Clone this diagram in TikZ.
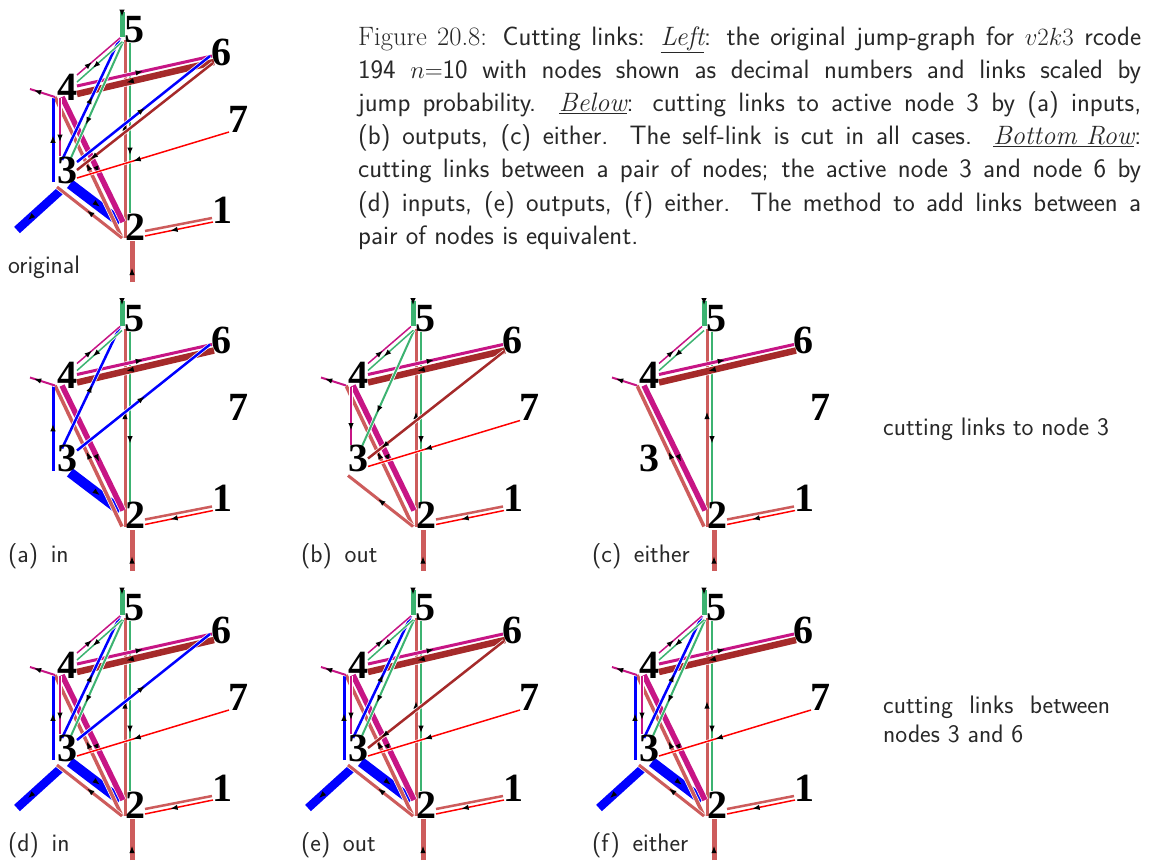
\documentclass[tikz,border=0pt]{standalone}
\usepackage{fontspec}
\newfontfamily\numfont{Liberation Serif}
\usetikzlibrary{calc,arrows.meta,decorations.markings}
\pgfdeclarelayer{back}
\pgfdeclarelayer{edges}
\pgfsetlayers{back,edges,main}
\definecolor{cB}{RGB}{0,0,255}
\definecolor{cM}{RGB}{199,21,133}
\definecolor{cG}{RGB}{60,179,113}
\definecolor{cBr}{RGB}{165,42,42}
\definecolor{cS}{RGB}{205,92,92}
\definecolor{cR}{RGB}{255,0,0}
\definecolor{txt}{RGB}{40,40,40}
\tikzset{
  lnk/.style n args={3}{draw=#1, line width=#2,
    preaction={draw=white, line width=#2+1.4pt},
    postaction={decorate, decoration={markings,
      mark=at position #3 with {\arrow{Latex[length=7.5pt,width=5.5pt,color=black]}}}}},
  lnkplain/.style 2 args={draw=#1, line width=#2,
    preaction={draw=white, line width=#2+1.4pt}},
  lbl/.style={font=\numfont\bfseries\fontsize{40}{40}\selectfont, inner sep=0pt, text=black},
  captxt/.style={font=\sffamily\fontsize{25.3}{29}\selectfont, text=txt, inner sep=0pt}
}
% self links
\newcommand\jgSelfFive{\draw[lnk={cG}{5pt}{0.2}] ($(n5)+(-12,-18)$) -- ($(n5)+(-12,7)$);}
\newcommand\jgSelfFour{\draw[lnk={cM}{2pt}{0.85}] ($(n4)+(-12,10)$) -- ($(n4)+(-37,2)$);}
\newcommand\jgSelfThree{\draw[lnk={cB}{8.5pt}{0.75}] ($(n3)+(-7,21)$) -- ($(n3)+(-50,60)$);}
\newcommand\jgSelfTwo{\draw[lnk={cS}{5pt}{0.35}] ($(n2)+(-3,55)$) -- ($(n2)+(-3,14)$);}
% links
\newcommand\jgFiveTwo{\draw[lnk={cG}{2.5pt}{0.66}] ($(n5)+(-4,13)$) -- ($(n2)+(-5,-14)$);}
\newcommand\jgTwoFive{\draw[lnk={cS}{3pt}{0.58}] ($(n2)+(-10,11)$) -- ($(n5)+(-9,10)$);}
\newcommand\jgFourFive{\draw[lnk={cM}{1.5pt}{0.35}] ($(n4)+(10,-12)$) -- ($(n5)+(-14,8)$);}
\newcommand\jgFiveFour{\draw[lnk={cG}{1.5pt}{0.65}] ($(n5)+(-12,12)$) -- ($(n4)+(10,-5)$);}
\newcommand\jgThreeFive{\draw[lnk={cB}{2.5pt}{0.52}] ($(n3)+(-5,-10)$) -- ($(n5)+(-14,8)$);}
\newcommand\jgFiveThree{\draw[lnk={cG}{2pt}{0.7}] ($(n5)+(-11,12)$) -- ($(n3)+(3,-10)$);}
\newcommand\jgFourSix{\draw[lnk={cM}{3pt}{0.49}] ($(n4)+(10,-1)$) -- ($(n6)+(-9,4)$);}
\newcommand\jgSixFour{\draw[lnk={cBr}{6.5pt}{0.64}] ($(n6)+(-7,10)$) -- ($(n4)+(10,7)$);}
\newcommand\jgThreeSix{\draw[lnk={cB}{2.5pt}{0.51}] ($(n3)+(10,-8)$) -- ($(n6)+(-11,4)$);}
\newcommand\jgSixThree{\draw[lnk={cBr}{2.5pt}{0.9}] ($(n6)+(-8,11)$) -- ($(n3)+(10,0)$);}
\newcommand\jgSevenThree{\draw[lnk={cR}{1.5pt}{0.63}] ($(n7)+(-9,13)$) -- ($(n3)+(10,8)$);}
\newcommand\jgFourThree{\draw[lnk={cM}{2pt}{0.76}] ($(n4)+(-7,11)$) -- ($(n3)+(-7,-14)$);}
\newcommand\jgThreeFour{\draw[lnk={cB}{3pt}{0.55}] ($(n3)+(-14,12)$) -- ($(n4)+(-14,10)$);}
\newcommand\jgFourTwo{\draw[lnk={cM}{5.5pt}{0.61}] ($(n4)+(-5,10)$) -- ($(n2)+(-12,-5)$);}
\newcommand\jgTwoFour{\draw[lnk={cS}{3.5pt}{0.53}] ($(n2)+(-13,11)$) -- ($(n4)+(-12,10)$);}
\newcommand\jgThreeTwo{\draw[lnk={cB}{10pt}{0.6}] ($(n3)+(3,14)$) -- ($(n2)+(-15,-5)$);}
\newcommand\jgTwoThree{\draw[lnk={cS}{3pt}{0.54}] ($(n2)+(-13,11)$) -- ($(n3)+(-10,17)$);}
\newcommand\jgTwoOne{\draw[lnkplain={cS}{2.5pt}] ($(n2)+(10,4)$) -- ($(n1)+(-10,8)$);}
\newcommand\jgOneTwo{\draw[lnk={cR}{1.5pt}{0.63}] ($(n1)+(-9,12)$) -- ($(n2)+(10,9)$);}
% cuts
\newcommand\jgCutIn{\let\jgFourThree\relax\let\jgFiveThree\relax\let\jgSixThree\relax
  \let\jgSevenThree\relax\let\jgTwoThree\relax\let\jgSelfThree\relax}
\newcommand\jgCutOut{\let\jgThreeFour\relax\let\jgThreeFive\relax\let\jgThreeSix\relax
  \let\jgThreeTwo\relax\let\jgSelfThree\relax}
\newcommand\jgPanel[3]{%
\begin{scope}[shift={#2}, name prefix=#1-]
#3
\node[lbl] (n5) at (134,30) {5};
\node[lbl] (n6) at (221,52) {6};
\node[lbl] (n4) at (67,87) {4};
\node[lbl] (n7) at (238,119) {7};
\node[lbl] (n3) at (67,170) {3};
\node[lbl] (n2) at (135,227) {2};
\node[lbl] (n1) at (222,210) {1};
\begin{pgfonlayer}{edges}
\jgSelfThree\jgSelfTwo\jgSelfFive
\jgFiveTwo\jgTwoFive
\jgThreeTwo\jgFourTwo\jgTwoFour\jgTwoThree
\jgSixFour\jgFourSix\jgThreeSix\jgSixThree\jgSevenThree
\jgThreeFive\jgFiveThree\jgFourFive\jgFiveFour
\jgFourThree\jgThreeFour\jgSelfFour
\jgTwoOne\jgOneTwo
\end{pgfonlayer}
\end{scope}}
\begin{document}
\begin{tikzpicture}[x=1pt,y=-1pt]
\begin{pgfonlayer}{back}
\fill[white] (0,0) rectangle (1160,860);
\end{pgfonlayer}
\useasboundingbox (0,0) rectangle (1160,860);
\jgPanel{o}{(0,0)}{}
\jgPanel{a}{(0,288.5)}{\jgCutIn}
\jgPanel{b}{(291,288.5)}{\jgCutOut}
\jgPanel{c}{(582,288.5)}{\jgCutIn\jgCutOut}
\jgPanel{d}{(0,578)}{\let\jgSixThree\relax}
\jgPanel{e}{(291,578)}{\let\jgThreeSix\relax}
\jgPanel{f}{(582,578)}{\let\jgSixThree\relax\let\jgThreeSix\relax}
% panel labels
\node[captxt, anchor=base west] (lo) at (8,273.5) {original};
\node[captxt, anchor=base west] (la) at (8,562) {(a)\hspace{0.5em}in};
\node[captxt, anchor=base west] (lb) at (301,562) {(b)\hspace{0.5em}out};
\node[captxt, anchor=base west] (lc) at (592,562) {(c)\hspace{0.5em}either};
\node[captxt, anchor=base west] (ld) at (8,851.5) {(d)\hspace{0.5em}in};
\node[captxt, anchor=base west] (le) at (301,851.5) {(e)\hspace{0.5em}out};
\node[captxt, anchor=base west] (lf) at (592,851.5) {(f)\hspace{0.5em}either};
\node[captxt, anchor=base west] (r1) at (883,435) {cutting links to node 3};
\node[captxt, anchor=base west] (r2) at (883,713) {\parbox[t]{227pt}{\makebox[227pt][s]{cutting links between}\\nodes 3 and 6}};
% caption
\node[captxt, anchor=base west, font=\sffamily\fontsize{26.6}{33.2}\selectfont] (caption) at (358,45) {\parbox[t]{783pt}{%
\makebox[783pt][s]{{\rmfamily Figure 20.8:} Cutting links: \underline{\rmfamily\itshape Left}: the original jump-graph for $v2k3$ rcode}\\
\makebox[783pt][s]{194 $n{=}$10 with nodes shown as decimal numbers and links scaled by}\\
\makebox[783pt][s]{jump probability. \underline{\rmfamily\itshape Below}: cutting links to active node 3 by (a) inputs,}\\
\makebox[783pt][s]{(b) outputs, (c) either. The self-link is cut in all cases. \underline{\rmfamily\itshape Bottom Row}:}\\
\makebox[783pt][s]{cutting links between a pair of nodes; the active node 3 and node 6 by}\\
\makebox[783pt][s]{(d) inputs, (e) outputs, (f) either. The method to add links between a}\\
pair of nodes is equivalent.}};
\end{tikzpicture}
\end{document}
